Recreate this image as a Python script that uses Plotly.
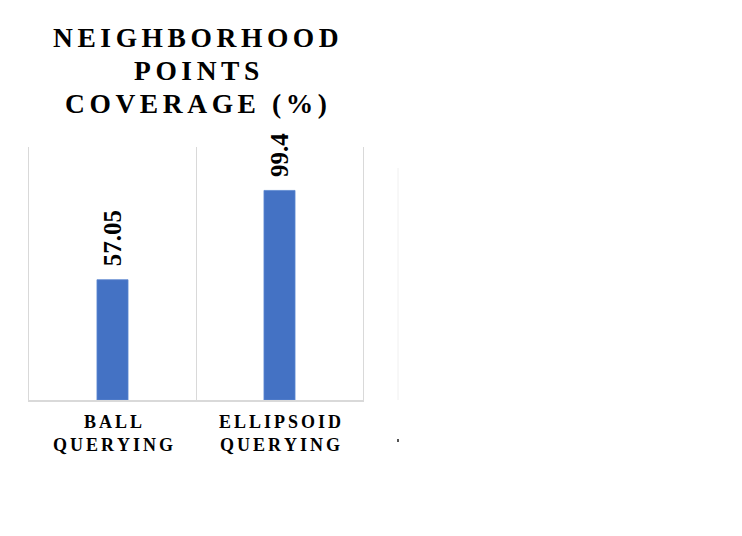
import plotly.graph_objects as go

categories = ["BALL QUERYING", "ELLIPSOID QUERYING"]
category_lines = [["BALL", "QUERYING"], ["ELLIPSOID", "QUERYING"]]
coverage = [57.05, 99.4]
value_labels = ["57.05", "99.4"]
title_lines = ["NEIGHBORHOOD", "POINTS", "COVERAGE (%)"]

LS = "\u2006"  # six-per-em space used as letter spacing


def spaced(s):
    return LS.join(list(s))


serif = "Liberation Serif, Times New Roman, serif"
bar_color = "#4472C4"
grid_color = "#d9d9d9"

# plot area in pixels: left 29, right 363, top 147, bottom 400
PT, PB = 147, 400


def py(p):
    return (PB - p) / (PB - PT)


fig = go.Figure()
fig.add_trace(go.Bar(
    x=categories,
    y=coverage,
    width=0.186,
    marker=dict(color=bar_color, line=dict(color="#5b86d0", width=0.8)),
    hoverinfo="skip",
))

for c, v, t in zip(categories, coverage, value_labels):
    fig.add_annotation(
        x=c, y=v, text="<b>" + t + "</b>", textangle=-90,
        showarrow=False, xanchor="center", yanchor="bottom", yshift=11,
        font=dict(family=serif, size=25, color="#000000"),
    )

# category labels (two lines each, letter-spaced)
for c, lines in zip(categories, category_lines):
    fig.add_annotation(
        x=c, y=py(433), yref="paper",
        text="<b>" + "<br>".join(spaced(l) for l in lines) + "</b>",
        showarrow=False, xanchor="center", yanchor="middle",
        font=dict(family=serif, size=18, color="#000000"),
    )

# title lines
title_centers = [37, 70, 103.5]
for line, yc in zip(title_lines, title_centers):
    fig.add_annotation(
        x=0.5, xref="paper", y=py(yc), yref="paper",
        text="<b>" + spaced(line) + "</b>",
        showarrow=False, xanchor="center", yanchor="middle",
        font=dict(family=serif, size=27.5, color="#000000"),
    )

fig.update_layout(
    width=742, height=536,
    margin=dict(l=29, r=379, t=147, b=136),
    paper_bgcolor="white", plot_bgcolor="white",
    showlegend=False,
    xaxis=dict(
        type="category", range=[-0.5, 1.5], tickson="boundaries",
        showgrid=True, gridcolor=grid_color, gridwidth=1,
        showline=True, linecolor=grid_color, linewidth=1.5,
        ticks="", showticklabels=False,
        zeroline=False, fixedrange=True,
    ),
    yaxis=dict(
        range=[0, 120], showgrid=False, showticklabels=False, ticks="",
        showline=True, mirror=True, linecolor=grid_color, linewidth=1,
        zeroline=False, fixedrange=True,
    ),
)

# faint residual border line of a neighbouring panel and a small mark, as in the source image
fig.add_shape(type="line", xref="paper", yref="paper",
              x0=(398 - 29) / 334, x1=(398 - 29) / 334,
              y0=0, y1=py(168),
              line=dict(color="#f0f0f0", width=1))
fig.add_shape(type="rect", xref="paper", yref="paper",
              x0=(397 - 29) / 334, x1=(399 - 29) / 334,
              y0=py(442), y1=py(439),
              line=dict(width=0), fillcolor="#555555")

fig.write_html("out.html")
